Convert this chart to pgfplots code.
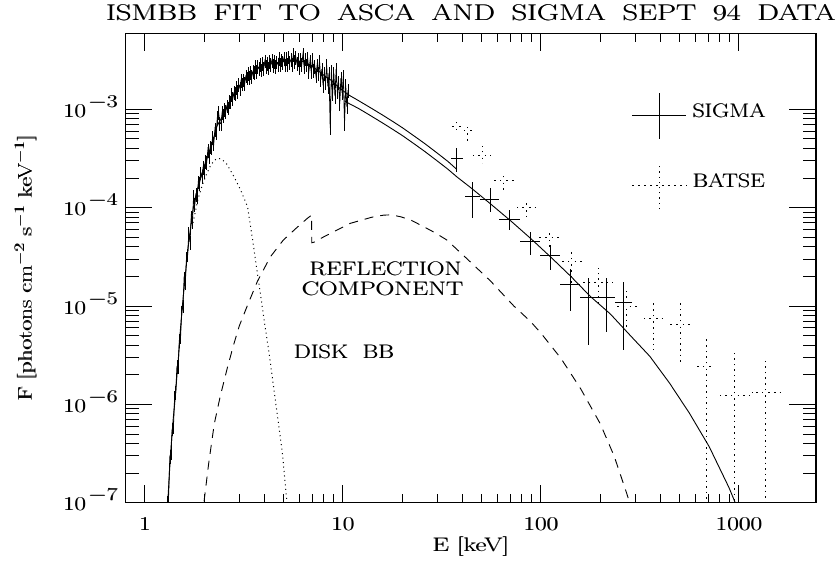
\documentclass[border=0pt]{standalone}
\usepackage{graphicx}
\usepackage{pgfplots}
\pgfplotsset{compat=1.18}
\newcommand\pb[1]{\rlap{#1}\kern0.45bp#1}
\newcommand\pg[2][1.18]{\scalebox{#1}[1]{\pb{#2}}}
\newcommand\lbl{\fontsize{19.5bp}{23bp}\selectfont}
\newcommand\tsp{\hspace{0.55em}}
\newcommand\ex[1]{10\raisebox{10bp}{\kern1.5bp\scalebox{0.92}{$-$#1}}}
\begin{document}
\begin{tikzpicture}[font=\lbl]
\useasboundingbox (0,0) rectangle (839bp,562bp);
\begin{axis}[
  at={(125.7bp,59.3bp)}, anchor=south west,
  scale only axis, width=690.3bp, height=469.4bp,
  xmode=log, ymode=log,
  xmin=0.8, xmax=2450, ymin=1e-7, ymax=5.93e-3,
  axis line style={line width=1.1bp},
  tick align=inside,
  every tick/.style={black, line width=0.9bp},
  xtick style={/pgfplots/major tick length=17.5bp,/pgfplots/minor tick length=9bp},
  ytick style={/pgfplots/major tick length=27bp,/pgfplots/minor tick length=13.5bp},
  xtick={1,10,100,1000},
  xticklabels={\pg[1.3]{1},\pg[1.3]{10},\pg[1.3]{100},\pg[1.3]{1000}},
  ytick={1e-7,1e-6,1e-5,1e-4,1e-3},
  yticklabels={\pg[1.28]{\ex{7}},\pg[1.28]{\ex{6}},\pg[1.28]{\ex{5}},\pg[1.28]{\ex{4}},\pg[1.28]{\ex{3}}},
  tick label style={font=\lbl},
  xticklabel style={anchor=base, inner sep=0pt, yshift=-27.3bp},
  yticklabel style={anchor=base east, inner sep=0pt, xshift=-7.7bp, yshift=-8bp},
  title={\resizebox{730bp}{16bp}{\fontsize{23.4bp}{28bp}\selectfont\pb{ISMBB\tsp FIT\tsp TO\tsp ASCA\tsp AND\tsp SIGMA\tsp SEPT\tsp 94\tsp DATA}}},
  every axis title/.style={at={(axis description cs:0.5,1.02684)}, anchor=base, inner sep=0pt},
  xlabel={\pg[1.35]{E [keV]}},
  every axis x label/.style={at={(axis description cs:0.5,-0.10396)}, anchor=base, inner sep=0pt, font=\lbl},
  ylabel={\pg[1.2]{F [photons cm$^{-2}$ s$^{-1}$ keV$^{-1}$]}},
  every axis y label/.style={at={(axis description cs:-0.13617,0.5)}, rotate=90, anchor=base, inner sep=0pt, font=\lbl},
  legend style={at={(axis description cs:0.733,0.8735)}, anchor=north west, draw=none, fill=none,
    inner sep=0pt, outer sep=0pt, nodes={inner sep=0pt}, column sep=5.5bp, row sep=22.7bp, font=\lbl},
  legend cell align=left,
]
% ASCA data (noisy spectrum)
\addplot[black, line width=0.8bp, forget plot,
  error bars/.cd, y dir=both, y fixed relative=0.16, error mark=none,
  error bar style={line width=0.7bp}] coordinates {
(1.29,7.0e-8) (1.300,1.02e-7) (1.318,1.20e-7) (1.337,2.95e-7) (1.355,3.24e-7) (1.374,5.62e-7)
(1.393,5.89e-7) (1.413,1.17e-6) (1.432,1.32e-6) (1.452,2.43e-6) (1.472,2.40e-6) (1.493,4.47e-6)
(1.514,4.90e-6) (1.535,8.71e-6) (1.556,1.00e-5) (1.578,1.91e-5) (1.600,1.74e-5) (1.622,3.02e-5)
(1.644,3.31e-5) (1.667,5.50e-5) (1.690,4.47e-5) (1.714,8.04e-5) (1.738,7.16e-5) (1.762,1.29e-4)
(1.786,1.07e-4) (1.811,1.37e-4) (1.837,1.30e-4) (1.862,1.83e-4) (1.888,1.77e-4) (1.914,2.26e-4)
(1.941,2.06e-4) (1.968,2.56e-4) (1.995,2.34e-4) (2.023,2.95e-4) (2.051,2.89e-4) (2.080,3.85e-4)
(2.109,3.29e-4) (2.138,4.15e-4) (2.168,4.05e-4) (2.198,5.19e-4) (2.228,4.52e-4) (2.259,6.30e-4)
(2.291,5.74e-4) (2.323,8.26e-4) (2.355,9.33e-4) (2.388,7.24e-4) (2.421,7.14e-4) (2.455,9.23e-4)
(2.489,8.61e-4) (2.523,1.005e-3) (2.559,9.44e-4) (2.594,1.084e-3) (2.630,1.033e-3) (2.667,1.194e-3)
(2.704,1.186e-3) (2.742,1.413e-3) (2.780,1.288e-3) (2.818,1.483e-3) (2.858,1.456e-3) (2.897,1.664e-3)
(2.938,1.51e-3) (2.979,1.78e-3) (3.020,1.644e-3) (3.062,1.968e-3) (3.105,1.816e-3) (3.148,1.986e-3)
(3.192,1.845e-3) (3.236,2.18e-3) (3.281,2.09e-3) (3.327,2.32e-3) (3.373,2.12e-3) (3.420,2.355e-3)
(3.467,2.17e-3) (3.516,2.43e-3) (3.565,2.35e-3) (3.614,2.71e-3) (3.664,2.415e-3) (3.715,2.72e-3)
(3.767,2.59e-3) (3.819,2.88e-3) (3.873,2.52e-3) (3.926,2.91e-3) (3.981,2.61e-3) (4.036,3.10e-3)
(4.093,2.75e-3) (4.150,2.95e-3) (4.207,2.63e-3) (4.266,3.09e-3) (4.325,2.85e-3) (4.385,3.17e-3)
(4.446,2.77e-3) (4.508,3.05e-3) (4.571,2.72e-3) (4.634,3.03e-3) (4.699,2.86e-3) (4.764,3.30e-3)
(4.831,2.84e-3) (4.898,3.18e-3) (4.966,2.975e-3) (5.035,3.31e-3) (5.105,2.82e-3) (5.176,3.27e-3)
(5.248,2.88e-3) (5.321,3.41e-3) (5.395,3.00e-3) (5.470,3.21e-3) (5.546,2.84e-3) (5.623,3.63e-3)
(5.702,3.07e-3) (5.781,3.40e-3) (5.861,2.95e-3) (5.943,3.23e-3) (6.026,2.68e-3) (6.109,3.19e-3)
(6.194,2.84e-3) (6.281,3.60e-3) (6.368,2.72e-3) (6.457,3.25e-3) (6.546,2.82e-3) (6.637,3.31e-3)
(6.730,2.44e-3) (6.823,3.10e-3) (6.918,2.43e-3) (7.015,3.19e-3) (7.112,2.50e-3) (7.211,2.75e-3)
(7.311,2.19e-3) (7.413,2.82e-3) (7.516,2.33e-3) (7.621,3.09e-3) (7.727,2.00e-3) (7.834,2.57e-3)
(7.943,1.755e-3) (8.054,2.33e-3) (8.166,1.875e-3) (8.279,2.79e-3) (8.395,1.71e-3) (8.511,2.34e-3)
(8.630,6.46e-4) (8.750,2.44e-3) (8.872,1.45e-3) (8.995,2.33e-3) (9.120,1.36e-3) (9.247,2.58e-3)
(9.376,1.50e-3) (9.506,1.89e-3) (9.638,1.14e-3) (9.772,2.08e-3) (9.908,1.47e-3) (10.05,2.17e-3)
(10.19,7.24e-4) (10.33,1.75e-3) (10.47,1.065e-3) (10.62,1.57e-3)
};
% model normalised to ASCA
\addplot[black, line width=0.9bp, forget plot] coordinates {
(1.30,8.9e-8) (1.33,2.0e-7) (1.36,4.0e-7) (1.39,7.1e-7) (1.42,1.12e-6) (1.45,1.91e-6) (1.48,3.16e-6)
(1.51,5.62e-6) (1.55,1.05e-5) (1.59,1.78e-5) (1.63,3.02e-5) (1.67,4.68e-5) (1.71,6.76e-5) (1.75,9.55e-5)
(1.80,1.26e-4) (1.85,1.58e-4) (1.90,1.91e-4) (1.95,2.29e-4) (2.00,2.69e-4) (2.10,3.55e-4) (2.20,4.68e-4)
(2.30,6.61e-4) (2.45,8.32e-4) (2.55,9.77e-4) (2.75,1.32e-3) (2.95,1.66e-3) (3.17,1.97e-3) (3.45,2.32e-3)
(3.70,2.60e-3) (4.0,2.82e-3) (4.49,2.94e-3) (5.1,3.09e-3) (5.8,3.13e-3) (6.36,3.05e-3) (7.0,2.72e-3)
(7.43,2.51e-3) (8.2,2.14e-3) (8.67,1.99e-3) (9.7,1.62e-3) (10.7,1.40e-3) (12,1.225e-3) (14,1.019e-3)
(16,8.65e-4) (18,7.45e-4) (20,6.49e-4) (23,5.32e-4) (26,4.46e-4) (30,3.58e-4) (34,2.94e-4) (37.6,2.45e-4)
};
% model normalised to SIGMA
\addplot[black, line width=0.9bp, forget plot] coordinates {
(10.2,1.22e-3) (10.7,1.15e-3) (12,1.02e-3) (14,8.47e-4) (16,7.19e-4) (18,6.19e-4) (20,5.40e-4)
(23,4.43e-4) (26,3.71e-4) (30,2.98e-4) (34,2.45e-4) (37.6,2.06e-4) (44.7,1.57e-4) (56.2,1.075e-4)
(70.8,7.27e-5) (89.1,4.83e-5) (112.2,3.14e-5) (141.3,2.01e-5) (177.8,1.25e-5) (223.9,8.32e-6)
(281.8,5.05e-6) (354.8,3.08e-6) (446.7,1.64e-6) (562.3,8.13e-7) (707.9,3.71e-7) (891.3,1.42e-7) (1000,8.1e-8)
};
% disk blackbody
\addplot[black, line width=1bp, dash pattern=on 1bp off 3.5bp, forget plot] coordinates {
(1.75,7.0e-5) (1.85,1.2e-4) (1.95,1.7e-4) (2.05,2.2e-4) (2.15,2.7e-4) (2.25,3.05e-4) (2.35,3.18e-4)
(2.45,3.1e-4) (2.6,2.75e-4) (2.82,2.06e-4) (3.05,1.5e-4) (3.3,1.02e-4) (3.5,4.7e-5) (3.7,2.15e-5)
(3.85,1.25e-5) (4.0,7.2e-6) (4.24,3.3e-6) (4.58,1.03e-6) (4.95,3.18e-7) (5.2,1.07e-7) (5.3,7e-8)
};
% reflection component
\addplot[black, line width=0.9bp, dash pattern=on 9bp off 7bp, forget plot] coordinates {
(1.95,7.1e-8) (2.0,1.12e-7) (2.1,2.51e-7) (2.24,6.31e-7) (2.4,1.20e-6) (2.6,2.29e-6) (2.8,3.98e-6)
(3.0,6.31e-6) (3.3,1.02e-5) (3.7,1.78e-5) (4.3,3.16e-5) (5.0,4.68e-5) (5.8,6.17e-5) (6.6,7.76e-5)
(6.95,8.41e-5) (6.96,4.4e-5) (7.13,4.45e-5) (8.03,5.07e-5) (10.9,6.93e-5) (12.5,7.5e-5) (14,8.0e-5)
(16.1,8.4e-5) (17.5,8.45e-5) (19.5,8.1e-5) (22,7.5e-5) (25.6,6.4e-5) (29,5.6e-5) (33.5,4.69e-5)
(42.5,3.0e-5) (55.6,1.8e-5) (73,1.0e-5) (88.4,7.0e-6) (100,5.3e-6) (126,2.95e-6) (158.5,1.45e-6)
(199,6.4e-7) (234,3.0e-7) (271,1.25e-7) (290,8e-8)
};
% SIGMA
\addplot[draw=none, mark=none,
  legend image code/.code={
    \draw[black, line width=1bp] (0bp,0bp) -- (54.3bp,0bp);
    \draw[black, line width=1bp] (27.15bp,-22.8bp) -- (27.15bp,22.8bp);},
  error bars/.cd, x dir=both, x explicit, y dir=both, y explicit, error mark=none,
  error bar style={draw=black, line width=1bp, solid}]
coordinates {
(37.6,3.18e-4) += (2.9,8.2e-5) -= (2.6,8.5e-5)
(44.9,1.29e-4) += (4.4,5.4e-5) -= (3.7,5.1e-5)
(55.6,1.22e-4) += (6.1,3.5e-5) -= (6.3,3.1e-5)
(69.6,7.6e-5) += (9.1,1.9e-5) -= (7.9,1.7e-5)
(88.4,4.5e-5) += (10.6,1.2e-5) -= (9.7,1.2e-5)
(111.5,3.25e-5) += (13.5,9.5e-6) -= (12.5,9.5e-6)
(140.7,1.67e-5) += (17.3,7.3e-6) -= (15.7,7.9e-6)
(174,1.23e-5) += (20,6.8e-6) -= (17,8.3e-6)
(214,1.23e-5) += (24,6.8e-6) -= (20,6.8e-6)
(261,1.08e-5) += (27,6.9e-6) -= (23,7.2e-6)
};
\addlegendentry{\raisebox{1.5bp}[7.3bp][6bp]{\pg[1.2]{SIGMA}}}
% BATSE
\addplot[draw=none, mark=none,
  legend image code/.code={
    \draw[black, line width=1bp, dash pattern=on 2bp off 4bp] (0bp,0bp) -- (54.3bp,0bp);
    \draw[black, line width=1bp, dash pattern=on 1.2bp off 4bp] (27.15bp,-23.3bp) -- (27.15bp,23.3bp);},
  error bars/.cd, x dir=both, x explicit, y dir=both, y explicit, error mark=none,
  error bar style={draw=black, line width=1bp, dash pattern=on 1.6bp off 4bp, dash phase=3bp}]
coordinates {
(37.4,6.76e-4) += (2.4,1.14e-4) -= (2.4,1.06e-4)
(42.7,6.05e-4) += (2.8,1.15e-4) -= (2.9,1.35e-4)
(50.5,3.43e-4) += (5.1,7.7e-5) -= (5.0,6.0e-5)
(64.9,1.91e-4) += (8.1,3.5e-5) -= (8.2,4.0e-5)
(84.4,1.0e-4) += (11.1,1.5e-5) -= (10.1,2.5e-5)
(110,5.0e-5) += (15.3,9.3e-6) -= (12.7,9.9e-6)
(143.5,2.82e-5) += (17.5,9.0e-6) -= (18.2,1.12e-5)
(195.5,1.73e-5) += (37,6.9e-6) -= (31.5,7.5e-6)
(272,1.0e-5) += (44.5,4.6e-6) -= (39.4,4.5e-6)
(370,7.4e-6) += (46,3.4e-6) -= (53,3.85e-6)
(505,6.56e-6) += (58,4.24e-6) -= (73,4.06e-6)
(689,2.45e-6) += (66,2.25e-6) -= (99,2.449e-6)
(955,1.22e-6) += (183,2.08e-6) -= (152,1.219e-6)
(1365,1.31e-6) += (252,1.51e-6) -= (205,1.309e-6)
};
\addlegendentry{\raisebox{1.5bp}[7.3bp][6bp]{\pg[1.2]{BATSE}}}
\node[anchor=base east, inner sep=0pt] at (axis cs:40.0,2.02e-5) {\pg[1.26]{REFLECTION}};
\node[anchor=base east, inner sep=0pt] at (axis cs:40.8,1.29e-5) {\pg[1.32]{COMPONENT}};
\node[anchor=base west, inner sep=0pt] at (axis cs:5.62,2.94e-6) {\pg[1.23]{DISK\hspace{0.3em} BB}};
\end{axis}
\end{tikzpicture}
\end{document}
